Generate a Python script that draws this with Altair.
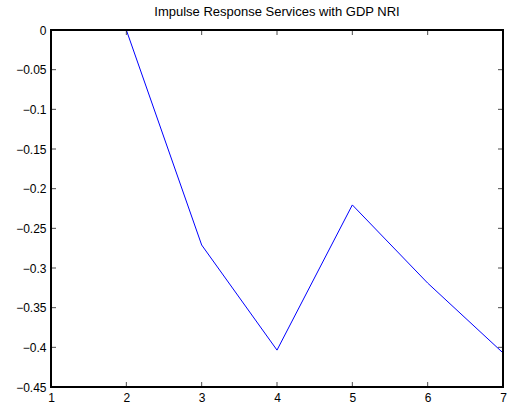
import altair as alt
import pandas as pd

# Impulse response values by horizon
periods = [2, 3, 4, 5, 6, 7]
response = [0.0, -0.271, -0.4035, -0.2205, -0.319, -0.407]

x_ticks = [1, 2, 3, 4, 5, 6, 7]
y_ticks = [0, -0.05, -0.1, -0.15, -0.2, -0.25, -0.3, -0.35, -0.4, -0.45]

FONT = "Liberation Sans"

line_df = pd.DataFrame({"period": periods, "response": response})
xt_df = pd.DataFrame({"period": x_ticks[1:-1]})
yt_df = pd.DataFrame({"response": y_ticks[1:-1]})

x_scale = alt.Scale(domain=[1, 7], nice=False, zero=False)
y_scale = alt.Scale(domain=[-0.45, 0], nice=False, zero=False)

x_axis = alt.Axis(values=x_ticks, format="d", title=None, grid=False, domain=False,
                  ticks=False, labelPadding=5, labelFontSize=12, labelFont=FONT,
                  labelColor="black", labelFlush=False, labelOverlap=False, labelBound=False)
y_axis = alt.Axis(values=y_ticks, format="~g", title=None, grid=False, domain=False,
                  ticks=False, labelPadding=5, labelFontSize=12, labelFont=FONT,
                  labelColor="black", labelFlush=False, labelOverlap=False, labelBound=False,
                  labelExpr="replace(datum.label, '-', '\u2212')")

line = alt.Chart(line_df).mark_line(color="#0000ff", strokeWidth=1).encode(
    x=alt.X("period:Q", scale=x_scale, axis=x_axis),
    y=alt.Y("response:Q", scale=y_scale, axis=y_axis),
)

# Box around the plot area
frame = alt.Chart(line_df).mark_rect(fill=None, stroke="black", strokeWidth=1.3).encode(
    x=alt.datum(1, scale=x_scale, axis=x_axis), x2=alt.datum(7),
    y=alt.datum(-0.45, scale=y_scale, axis=y_axis), y2=alt.datum(0),
)

# Inward tick marks on all four sides of the frame
tick_style = dict(color="black", thickness=1, size=5)
bottom_ticks = alt.Chart(xt_df).mark_tick(orient="vertical", yOffset=-2.5, **tick_style).encode(
    x=alt.X("period:Q", scale=x_scale, axis=x_axis),
    y=alt.datum(-0.45, scale=y_scale, axis=y_axis))
top_ticks = alt.Chart(xt_df).mark_tick(orient="vertical", yOffset=2.5, **tick_style).encode(
    x=alt.X("period:Q", scale=x_scale, axis=x_axis),
    y=alt.datum(0, scale=y_scale, axis=y_axis))
left_ticks = alt.Chart(yt_df).mark_tick(orient="horizontal", xOffset=2.5, **tick_style).encode(
    y=alt.Y("response:Q", scale=y_scale, axis=y_axis),
    x=alt.datum(1, scale=x_scale, axis=x_axis))
right_ticks = alt.Chart(yt_df).mark_tick(orient="horizontal", xOffset=-2.5, **tick_style).encode(
    y=alt.Y("response:Q", scale=y_scale, axis=y_axis),
    x=alt.datum(7, scale=x_scale, axis=x_axis))

chart = alt.layer(line, frame, bottom_ticks, top_ticks, left_ticks, right_ticks).properties(
    width=452,
    height=357,
    title=alt.Title("Impulse Response Services with GDP NRI", fontSize=13, font=FONT,
                    fontWeight="normal", color="black", anchor="middle", offset=5),
    padding={"left": 51, "top": 30, "right": 7, "bottom": 20},
    autosize=alt.AutoSizeParams(type="none"),
).configure_view(stroke=None).configure(background="white")

chart.save("out.html", embed_options={"renderer": "svg", "actions": False})
